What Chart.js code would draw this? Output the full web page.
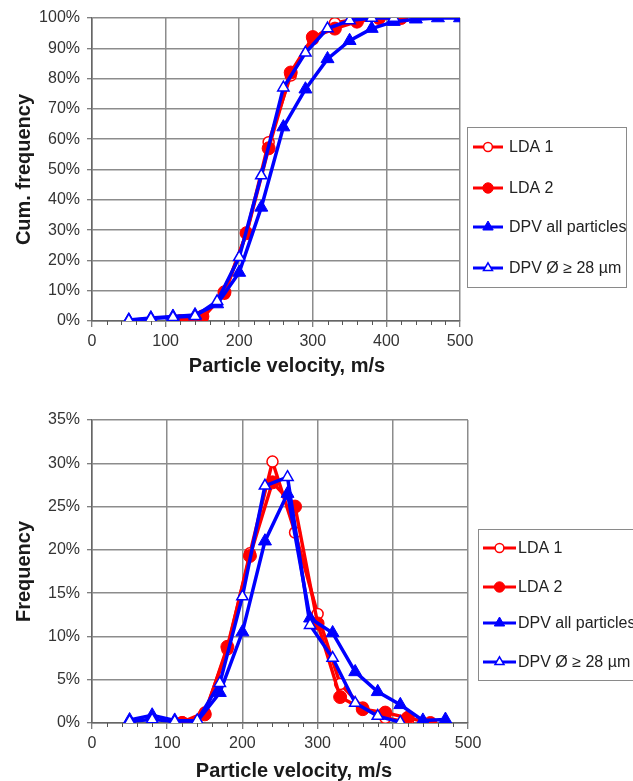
<!DOCTYPE html>
<html><head><meta charset="utf-8">
<script src="https://cdn.jsdelivr.net/npm/chart.js@4/dist/chart.umd.min.js"></script>
<style>
html,body{margin:0;padding:0;background:#fff;}
#w1{position:absolute;left:0;top:0;width:633px;height:390px;}
#w2{position:absolute;left:0;top:390px;width:633px;height:391px;}
</style></head><body>
<div id="w1"><canvas id="c1" width="633" height="390"></canvas></div>
<div id="w2"><canvas id="c2" width="633" height="391"></canvas></div>
<script>
// ---------- data ----------
const seriesNames = ['LDA 1', 'LDA 2', 'DPV all particles', 'DPV Ø ≥ 28 µm'];
const xTickValues = [0, 100, 200, 300, 400, 500];

// Top chart: cumulative frequency (%)
const cumLda1X = [120, 150, 180, 210, 240, 270, 300, 330, 360, 390, 420];
const cumLda1Y = [0, 1, 9, 29, 59, 81, 93, 98.3, 99.8, 100, 100];
const cumLda2X = [120, 150, 180, 210, 240, 270, 300, 330, 360, 390, 420];
const cumLda2Y = [0, 1.5, 9.5, 29, 57, 82, 93.7, 96.5, 98.8, 100, 100];
const cumDpvAllX = [50, 80, 110, 140, 170, 200, 230, 260, 290, 320, 350, 380, 410, 440, 470, 500];
const cumDpvAllY = [0.3, 1, 1.5, 2, 5.6, 16, 37.5, 64, 76.5, 86.5, 92.5, 96.5, 98.8, 99.6, 100, 100];
const cumDpv28X = [50, 80, 110, 140, 170, 200, 230, 260, 290, 320, 350, 380, 410];
const cumDpv28Y = [0.2, 0.8, 1.2, 1.6, 6.5, 21, 48, 77, 88.5, 96.5, 99.2, 100, 100];

// Bottom chart: frequency (%)
const freqLda1X = [120, 150, 180, 210, 240, 270, 300, 330, 360, 390, 420];
const freqLda1Y = [0.1, 1.2, 8.5, 19.6, 30.2, 22, 12.6, 4.5, 1.8, 0.6, 0.1];
const freqLda2X = [120, 150, 180, 210, 240, 270, 300, 330, 360, 390, 420, 450];
const freqLda2Y = [0, 1, 8.8, 19.3, 27.8, 25, 11.5, 3, 1.6, 1.2, 0.6, 0];
const freqDpvAllX = [50, 80, 110, 140, 170, 200, 230, 260, 290, 320, 350, 380, 410, 440, 470];
const freqDpvAllY = [0.35, 0.9, 0.3, 0.2, 3.5, 10.5, 21, 26.5, 12.1, 10.4, 5.9, 3.6, 2.1, 0.3, 0.4];
const freqDpv28X = [50, 80, 110, 140, 170, 200, 230, 260, 290, 320, 350, 380, 410];
const freqDpv28Y = [0.2, 0.4, 0.2, 0.3, 4.6, 14.6, 27.4, 28.4, 11.3, 7.5, 2.3, 0.8, 0.1];

const cumYTicks = [0, 10, 20, 30, 40, 50, 60, 70, 80, 90, 100];
const freqYTicks = [0, 5, 10, 15, 20, 25, 30, 35];

// ---------- helpers ----------
const FONT = '"Liberation Sans", Arial, sans-serif';
const RED = '#ff0000', BLUE = '#0000ff';
const pts = (xs, ys) => xs.map((x, i) => ({x: x, y: ys[i]}));

function makeDatasets(sets) {
  const styles = [
    {borderColor: RED, pointStyle: 'circle', pointRadius: 5.5, pointBackgroundColor: '#fff', pointBorderColor: RED, pointBorderWidth: 1.5, borderWidth: 3.4, order: 4},
    {borderColor: RED, pointStyle: 'circle', pointRadius: 6.5, pointBackgroundColor: RED, pointBorderColor: RED, pointBorderWidth: 1, borderWidth: 3.4, order: 3},
    {borderColor: BLUE, pointStyle: 'triangle', pointRadius: 7.5, pointBackgroundColor: BLUE, pointBorderColor: BLUE, pointBorderWidth: 1, borderWidth: 3.5, order: 2},
    {borderColor: BLUE, pointStyle: 'triangle', pointRadius: 6.5, pointBackgroundColor: '#fff', pointBorderColor: BLUE, pointBorderWidth: 1.5, borderWidth: 3.5, order: 1}
  ];
  return sets.map((s, i) => Object.assign({
    label: seriesNames[i], data: pts(s[0], s[1]), tension: 0, fill: false, pointHoverRadius: 6
  }, styles[i]));
}

const boxLegend = {
  id: 'boxLegend',
  afterDraw(chart, args, o) {
    const ctx = chart.ctx;
    ctx.save();
    ctx.strokeStyle = '#8a8a8a'; ctx.lineWidth = 1;
    ctx.strokeRect(o.x + 0.5, o.y + 0.5, o.w, o.h);
    chart.data.datasets.forEach((ds, i) => {
      const cy = o.itemY[i];
      ctx.strokeStyle = ds.borderColor; ctx.lineWidth = 3;
      ctx.beginPath(); ctx.moveTo(o.lx0, cy); ctx.lineTo(o.lx1, cy); ctx.stroke();
      ctx.fillStyle = ds.pointBackgroundColor; ctx.strokeStyle = ds.pointBorderColor; ctx.lineWidth = ds.pointBorderWidth;
      Chart.helpers.drawPoint(ctx, {pointStyle: ds.pointStyle, radius: ds.pointRadius * 0.8, borderWidth: ds.pointBorderWidth, rotation: 0}, (o.lx0 + o.lx1) / 2, cy);
      ctx.fillStyle = '#222'; ctx.font = '16px ' + FONT; ctx.textBaseline = 'middle'; ctx.textAlign = 'left';
      ctx.fillText(ds.label, o.tx, cy + 1);
    });
    ctx.restore();
  }
};

const extras = {
  id: 'extras',
  afterDraw(chart, args, o) {
    const ctx = chart.ctx, xs = chart.scales.x, bottom = chart.chartArea.bottom;
    ctx.save();
    ctx.strokeStyle = '#555'; ctx.lineWidth = 1;
    for (let v = 0; v <= 500; v += 20) {
      if (v % 100 === 0) continue;
      const px = Math.round(xs.getPixelForValue(v)) + 0.5;
      ctx.beginPath(); ctx.moveTo(px, bottom); ctx.lineTo(px, bottom + 4); ctx.stroke();
    }
    ctx.fillStyle = '#1a1a1a'; ctx.font = 'bold 20px ' + FONT;
    ctx.textAlign = 'center'; ctx.textBaseline = 'middle';
    ctx.fillText(o.xTitle, o.tx, o.ty);
    ctx.restore();
  }
};

function makeChart(id, sets, yMax, yStep, yTicks, yTitle, pad, xAxisH, legendOpts, titleOpts) {
  return new Chart(document.getElementById(id), {
    type: 'line',
    data: {datasets: makeDatasets(sets)},
    plugins: [boxLegend, extras],
    options: {
      responsive: false, animation: false, devicePixelRatio: 1,
      layout: {padding: pad},
      plugins: {legend: {display: false}, tooltip: {enabled: false}, boxLegend: legendOpts, extras: titleOpts},
      scales: {
        x: {
          type: 'linear', min: 0, max: 500,
          afterBuildTicks: s => { s.ticks = xTickValues.map(v => ({value: v})); },
          afterFit: s => { s.height = xAxisH; },
          ticks: {color: '#333', font: {size: 16, family: FONT}, padding: 5, maxRotation: 0},
          grid: {color: '#8c8c8c', lineWidth: 1.5, tickLength: 6, tickColor: '#555', tickWidth: 1},
          border: {color: '#666', width: 1.5}
        },
        y: {
          min: 0, max: yMax,
          afterBuildTicks: s => { s.ticks = yTicks.map(v => ({value: v})); },
          afterFit: s => { s.width = 92; },
          ticks: {color: '#333', font: {size: 16, family: FONT}, padding: 7, callback: v => v + '%'},
          grid: {color: '#8c8c8c', lineWidth: 1.5, tickLength: 5, tickColor: '#555', tickWidth: 1},
          border: {color: '#666', width: 1.5},
          title: {display: true, text: yTitle, color: '#1a1a1a', font: {size: 20, weight: 'bold', family: FONT}, padding: {top: 12, bottom: 0}}
        }
      }
    }
  });
}

makeChart('c1',
  [[cumLda1X, cumLda1Y], [cumLda2X, cumLda2Y], [cumDpvAllX, cumDpvAllY], [cumDpv28X, cumDpv28Y]],
  100, 10, cumYTicks, 'Cum. frequency',
  {left: 0, top: 18, right: 173, bottom: 0}, 69,
  {x: 467, y: 127, w: 159, h: 160, itemY: [147, 188, 227, 268], lx0: 473, lx1: 503, tx: 509},
  {xTitle: 'Particle velocity, m/s', tx: 287, ty: 366});

makeChart('c2',
  [[freqLda1X, freqLda1Y], [freqLda2X, freqLda2Y], [freqDpvAllX, freqDpvAllY], [freqDpv28X, freqDpv28Y]],
  35, 5, freqYTicks, 'Frequency',
  {left: 0, top: 30, right: 165, bottom: 0}, 58,
  {x: 478, y: 139, w: 170, h: 151, itemY: [158, 197, 233, 272], lx0: 483, lx1: 516, tx: 518},
  {xTitle: 'Particle velocity, m/s', tx: 294, ty: 381});
</script>
</body></html>
